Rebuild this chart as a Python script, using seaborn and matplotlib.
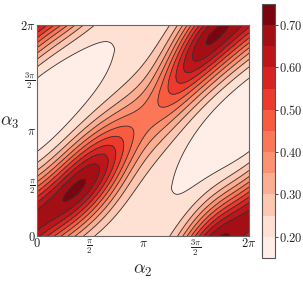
import numpy as np
import matplotlib
matplotlib.use("Agg")
import matplotlib.pyplot as plt
import seaborn as sns

sns.set_theme(style="white")
plt.rcParams["mathtext.fontset"] = "cm"
plt.rcParams["font.family"] = ["DejaVu Serif"]

# values (angles in units of pi)
ridge_x = [0.0, 0.40, 0.75, 1.0, 1.3, 1.63]       # positions along the ridge
ridge_val = [0.66, 0.73, 0.51, 0.47, 0.51, 0.73]  # ridge height there
ridge_off = [0.15, 0.07, 0.04, 0.08, 0.20, 0.23]  # ridge height above the diagonal (alpha3 - alpha2)
valley_x = [0.0, 0.67, 1.0, 1.33]
valley_val = [0.155, 0.195, 0.21, 0.195]
ridge_half_width = 0.42                           # half width of the ridge, across the diagonal
ridge_flatness = 2.0                              # profile exponent

levels = np.arange(0.15, 0.751, 0.05)
tick_pos = [0, np.pi / 2, np.pi, 3 * np.pi / 2, 2 * np.pi]
tick_lab = [r"$0$", r"$\frac{\pi}{2}$", r"$\pi$", r"$\frac{3\pi}{2}$", r"$2\pi$"]
cbar_ticks = [0.20, 0.30, 0.40, 0.50, 0.60, 0.70]


def periodic_fit(xs, ys, order):
    # least squares Fourier series through the readings, period 2 (in units of pi)
    xs = np.pi * np.asarray(xs)
    cols = [np.ones_like(xs)]
    for n in range(1, order + 1):
        cols += [np.cos(n * xs), np.sin(n * xs)]
    coef = np.linalg.lstsq(np.column_stack(cols), np.asarray(ys), rcond=None)[0]

    def f(x):
        out = coef[0] * np.ones_like(x)
        for n in range(1, order + 1):
            out = out + coef[2 * n - 1] * np.cos(n * x) + coef[2 * n] * np.sin(n * x)
        return out
    return f


R_fn = periodic_fit(ridge_x, ridge_val, 2)
phi_fn = periodic_fit(ridge_x, ridge_off, 2)
V_fn = periodic_fit(valley_x, valley_val, 1)

a2 = np.linspace(0, 2 * np.pi, 401)
a3 = np.linspace(0, 2 * np.pi, 401)
X, Y = np.meshgrid(a2, a3)

R = R_fn(X)
V = V_fn(X)
U = Y - X - np.pi * phi_fn(X)
d = np.abs(np.angle(np.exp(1j * U))) / np.pi      # distance from ridge, 0..1
g = np.exp(-(d / ridge_half_width) ** ridge_flatness)
g0 = np.exp(-(1 / ridge_half_width) ** ridge_flatness)
Z = V + (R - V) * (g - g0) / (1 - g0)

fig = plt.figure(figsize=(3.03, 2.81), dpi=100)
ax = fig.add_axes([0.122, 0.160, 0.70, 0.751])
cax = fig.add_axes([0.865, 0.082, 0.043, 0.904])

cmap = sns.color_palette("Reds", as_cmap=True)
cf = ax.contourf(X, Y, Z, levels=levels, cmap=cmap)
ax.contour(X, Y, Z, levels=levels, colors="#333333", linewidths=0.6)

ax.set_xlim(0, 2 * np.pi)
ax.set_ylim(0, 2 * np.pi)
ax.set_xticks(tick_pos)
ax.set_xticklabels(tick_lab, fontsize=9)
ax.set_yticks(tick_pos)
ax.set_yticklabels(tick_lab, fontsize=9)
ax.tick_params(direction="in", length=2, width=0.6, pad=1, colors="#222222")
ax.set_xlabel(r"$\alpha_2$", fontsize=13, labelpad=2)
ax.set_ylabel(r"$\alpha_3$", fontsize=13, rotation=0, labelpad=8)
for s in ax.spines.values():
    s.set_color("#666666")
    s.set_linewidth(0.8)

cb = fig.colorbar(cf, cax=cax)
cb.set_ticks(cbar_ticks)
cb.set_ticklabels([f"${t:.2f}$" for t in cbar_ticks])
cb.ax.tick_params(labelsize=9, direction="out", length=2, width=0.6, pad=1, left=False)
cb.outline.set_edgecolor("#555555")
cb.outline.set_linewidth(0.8)

fig.savefig("out.png", dpi=100)
